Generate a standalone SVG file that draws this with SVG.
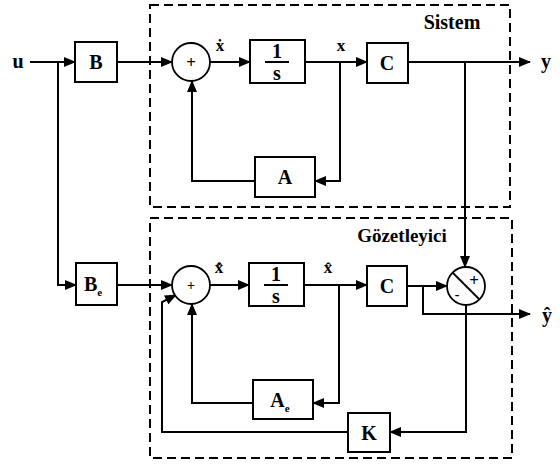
<svg xmlns="http://www.w3.org/2000/svg" width="560" height="464" viewBox="0 0 560 464">
<style>
.box{fill:#fff;stroke:#000;stroke-width:2}
.sum{fill:#fff;stroke:#000;stroke-width:1.8}
.ln{fill:none;stroke:#000;stroke-width:2}
.dash{fill:none;stroke:#000;stroke-width:2;stroke-dasharray:9 5}
.t{font-family:"Liberation Serif","DejaVu Serif",serif;font-weight:bold;fill:#000}
.lb{font-size:20px;text-anchor:middle}
.sm{font-size:17px;text-anchor:middle}
</style>
<defs>
<marker id="ar" markerWidth="12" markerHeight="10" refX="11" refY="5" orient="auto" markerUnits="userSpaceOnUse">
<path d="M0,0 L12,5 L0,10 Z" fill="#000"/>
</marker>
</defs>
<rect width="560" height="464" fill="#fff"/>
<g id="frames">
<rect class="dash" x="150" y="5" width="360" height="202"/>
<rect class="dash" x="150" y="218" width="362" height="240"/>
<text class="t" x="452" y="29" font-size="20" text-anchor="middle">Sistem</text>
<text class="t" x="402" y="242" font-size="19" text-anchor="middle">Gözetleyici</text>
</g>
<g id="connectors">
<path class="ln" d="M30,62 H75" marker-end="url(#ar)" stroke-width="1.5"/>
<path class="ln" d="M58,62 V285 H76" marker-end="url(#ar)"/>
<path class="ln" d="M117,62 H172" marker-end="url(#ar)"/>
<path class="ln" d="M210,62 H250" marker-end="url(#ar)"/>
<path class="ln" d="M305,62 H367" marker-end="url(#ar)"/>
<path class="ln" d="M340,62 V181 H315" marker-end="url(#ar)"/>
<path class="ln" d="M255,181 H192 V81" marker-end="url(#ar)"/>
<path class="ln" d="M408,62 H530" marker-end="url(#ar)"/>
<path class="ln" d="M465,62 V267" marker-end="url(#ar)"/>
<path class="ln" d="M117,285 H172" marker-end="url(#ar)"/>
<path class="ln" d="M210,285 H249" marker-end="url(#ar)"/>
<path class="ln" d="M304,285 H367" marker-end="url(#ar)"/>
<path class="ln" d="M339,285 V403 H313" marker-end="url(#ar)"/>
<path class="ln" d="M253,403 H192 V304" marker-end="url(#ar)"/>
<path class="ln" d="M407,286 H447" marker-end="url(#ar)"/>
<path class="ln" d="M423,286 V314 H530" marker-end="url(#ar)"/>
<path class="ln" d="M466,305 V432 H390" marker-end="url(#ar)"/>
<path class="ln" d="M348,432 H162 V302 L176,295" marker-end="url(#ar)"/>
</g>
<g id="u"><text class="t lb" x="18" y="68">u</text></g>
<g id="y"><text class="t lb" x="546" y="68">y</text></g>
<g id="yhat"><text class="t lb" x="547" y="322">ŷ</text></g>
<g id="xdot"><text class="t sm" x="220" y="51">ẋ</text></g>
<g id="x"><text class="t sm" x="341" y="51">x</text></g>
<g id="xhatdot"><text class="t sm" x="219" y="273">x̂̇</text></g>
<g id="xhat"><text class="t sm" x="328" y="273">x̂</text></g>
<g id="B"><rect class="box" x="75" y="42" width="42" height="40"/><text class="t lb" x="96" y="69">B</text></g>
<g id="Be"><rect class="box" x="76" y="263" width="41" height="42"/><text class="t lb" x="93" y="291">B<tspan font-size="11" dy="5">e</tspan></text></g>
<g id="sum1"><circle class="sum" cx="191" cy="62" r="19"/><text class="t sm" x="191" y="68">+</text></g>
<g id="sum2"><circle class="sum" cx="191" cy="285" r="19"/><text class="t" x="191" y="290" font-size="14" text-anchor="middle">+</text></g>
<g id="int1"><rect class="box" x="250" y="40" width="55" height="43"/><text class="t lb" x="277" y="58">1</text><line x1="265" y1="62" x2="289" y2="62" stroke="#000" stroke-width="2"/><text class="t lb" x="277" y="80">s</text></g>
<g id="int2"><rect class="box" x="249" y="263" width="55" height="43"/><text class="t lb" x="276" y="281">1</text><line x1="264" y1="285" x2="288" y2="285" stroke="#000" stroke-width="2"/><text class="t lb" x="276" y="303">s</text></g>
<g id="C1"><rect class="box" x="367" y="43" width="41" height="40"/><text class="t lb" x="387" y="70">C</text></g>
<g id="C2"><rect class="box" x="367" y="266" width="40" height="40"/><text class="t lb" x="387" y="293">C</text></g>
<g id="A"><rect class="box" x="255" y="157" width="60" height="40"/><text class="t lb" x="285" y="184">A</text></g>
<g id="Ae"><rect class="box" x="253" y="380" width="60" height="39"/><text class="t lb" x="280" y="407">A<tspan font-size="11" dy="5">e</tspan></text></g>
<g id="K"><rect class="box" x="348" y="413" width="42" height="39"/><text class="t lb" x="369" y="440">K</text></g>
<g id="sum3"><circle class="sum" cx="466" cy="286" r="19"/><line x1="453" y1="273" x2="479" y2="299" stroke="#000" stroke-width="1.8"/><text class="t" x="474" y="286" font-size="17" text-anchor="middle">+</text><text class="t" x="457" y="299" font-size="14" text-anchor="middle">-</text></g>
</svg>
